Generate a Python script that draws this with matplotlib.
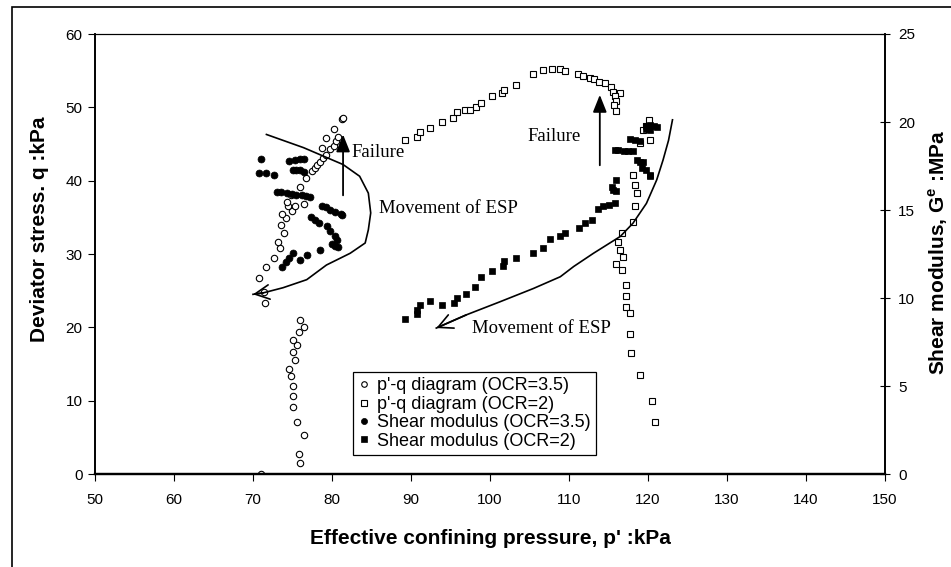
import matplotlib
matplotlib.use('Agg')
import matplotlib.pyplot as plt
from matplotlib.lines import Line2D
from matplotlib.patches import Rectangle

# p'-q path, OCR = 3.5  (p' and q in kPa)
pq35_p = [71.0, 75.9, 75.8, 76.4, 75.6, 75.0, 75.0, 75.0, 74.8, 74.5, 75.3, 75.0, 75.6, 75.1,
          75.8, 76.4, 75.9, 71.5, 71.4, 70.7, 71.6, 72.6, 73.4, 73.2, 73.9, 73.5, 74.2, 73.7,
          74.9, 74.4, 75.3, 76.4, 74.3, 74.8, 75.9, 76.7, 77.5, 77.8, 78.1, 78.5, 78.9, 79.3,
          78.7, 79.7, 80.2, 80.5, 79.3, 80.8, 80.2, 81.3, 81.4]
pq35_q = [0.0, 1.45, 2.7, 5.3, 7.1, 9.2, 10.6, 12.0, 13.3, 14.3, 15.6, 16.7, 17.6, 18.3,
          19.4, 20.1, 21.0, 23.3, 24.8, 26.7, 28.2, 29.5, 30.8, 31.7, 32.8, 33.9, 34.9, 35.5,
          35.9, 36.6, 36.6, 36.8, 37.1, 38.1, 39.2, 40.3, 41.3, 41.7, 42.1, 42.6, 43.1, 43.5,
          44.5, 44.3, 44.7, 45.4, 45.8, 45.9, 47.1, 48.4, 48.5]

# p'-q path, OCR = 2
pq2_p = [89.2, 90.7, 91.1, 92.4, 93.9, 95.3, 95.8, 96.8, 97.5, 98.2, 98.8, 100.2, 101.5,
         101.8, 103.3, 105.4, 106.7, 107.8, 108.8, 109.5, 111.2, 111.8, 112.6, 113.2, 113.8,
         114.6, 115.3, 115.6, 116.5, 115.8, 116.0, 115.7, 115.9, 120.1, 119.8, 119.4, 120.2,
         119.0, 118.1, 118.4, 118.6, 118.3, 118.1, 116.7, 116.2, 116.5, 116.8, 116.0, 116.7,
         117.2, 117.2, 117.2, 117.7, 117.7, 117.9, 119.0, 120.5, 120.9]
pq2_q = [45.6, 46.0, 46.7, 47.2, 48.0, 48.6, 49.4, 49.6, 49.7, 50.1, 50.6, 51.5, 51.9,
         52.4, 53.0, 54.5, 55.1, 55.2, 55.2, 54.9, 54.6, 54.3, 54.0, 53.8, 53.5,
         53.3, 52.8, 52.1, 52.0, 51.5, 50.9, 50.3, 49.5, 48.3, 47.5, 46.9, 45.5,
         45.1, 40.8, 39.4, 38.3, 36.5, 34.4, 32.8, 31.7, 30.5, 29.6, 28.6, 27.8,
         25.8, 24.3, 22.8, 22.0, 19.1, 16.5, 13.5, 9.9, 7.1]

# shear modulus, OCR = 3.5  (p' kPa, G MPa)
gm35_p = [71.0, 70.7, 71.6, 72.6, 74.6, 75.3, 75.9, 76.5, 75.0, 75.5, 76.0, 76.5, 73.0, 73.6,
          74.3, 74.9, 75.5, 76.2, 76.7, 77.2, 78.7, 79.2, 79.8, 80.4, 81.2, 81.3, 77.4, 77.8,
          78.4, 79.4, 79.7, 80.4, 80.6, 80.0, 80.4, 80.7, 78.5, 76.8, 75.9, 75.0, 74.5, 74.2,
          73.7]
gm35_g = [17.88, 17.08, 17.08, 17.00, 17.79, 17.83, 17.88, 17.88, 17.29, 17.25, 17.25, 17.17,
          16.04, 16.00, 15.96, 15.92, 15.88, 15.83, 15.79, 15.75, 15.21, 15.17, 15.00, 14.88,
          14.79, 14.71, 14.58, 14.46, 14.25, 14.08, 13.79, 13.50, 13.29, 13.08, 12.96, 12.92,
          12.75, 12.42, 12.17, 12.54, 12.29, 12.04, 11.75]

# shear modulus, OCR = 2
gm2_p = [89.2, 90.7, 90.8, 91.2, 92.4, 93.9, 95.4, 95.8, 97.0, 98.1, 98.8, 100.2, 101.6,
         101.8, 103.3, 105.4, 106.7, 107.6, 108.8, 109.5, 111.3, 112.0, 112.9, 113.7, 114.3,
         115.0, 115.8, 115.6, 116.0, 115.5, 115.9, 115.8, 116.2, 116.9, 117.5, 118.1, 117.7,
         118.3, 119.0, 118.6, 119.0, 119.4, 119.2, 119.8, 120.3, 120.2, 119.8, 120.3, 120.8,
         121.2, 119.7, 120.2]
gm2_g = [8.79, 9.08, 9.33, 9.58, 9.83, 9.58, 9.71, 10.00, 10.21, 10.63, 11.21, 11.54, 11.79,
         12.08, 12.29, 12.58, 12.83, 13.33, 13.50, 13.67, 13.96, 14.25, 14.42, 15.08, 15.21,
         15.29, 15.42, 16.13, 16.08, 16.33, 16.71, 18.42, 18.42, 18.38, 18.38, 18.33, 19.04,
         19.00, 18.92, 17.83, 17.75, 17.71, 17.38, 17.25, 17.00, 16.92, 19.79, 19.83, 19.75,
         19.71, 19.58, 19.54]

# sketched movement of the effective stress point (p', q)
esp35_p = [71.7, 76.4, 81.4, 83.5, 84.6, 84.9, 84.6, 84.2, 82.3, 79.3, 76.8, 73.8, 71.3, 70.0]
esp35_q = [46.3, 44.5, 42.2, 40.6, 38.3, 35.6, 33.3, 31.5, 30.1, 28.5, 26.5, 25.4, 24.7, 24.5]
esp2_p = [123.1, 122.6, 121.9, 121.1, 119.8, 118.1, 116.5, 113.1, 110.6, 108.9, 105.5,
          101.3, 97.0, 93.2]
esp2_q = [48.3, 45.5, 42.8, 40.1, 36.9, 34.2, 32.4, 30.1, 28.3, 26.9, 25.3, 23.5, 21.7, 19.9]

x_ticks = list(range(50, 151, 10))
q_ticks = list(range(0, 61, 10))
g_ticks = list(range(0, 26, 5))

legend_labels = ["p'-q diagram (OCR=3.5)", "p'-q diagram (OCR=2)",
                 "Shear modulus (OCR=3.5)", "Shear modulus (OCR=2)"]

SANS = 'Liberation Sans'
SERIF = 'Liberation Serif'
plt.rcParams['font.family'] = SANS
plt.rcParams['mathtext.fontset'] = 'custom'
plt.rcParams['mathtext.rm'] = SANS
plt.rcParams['mathtext.bf'] = SANS + ':bold'

W, H = 951, 567
fig = plt.figure(figsize=(W / 100, H / 100), dpi=100)
fig.patch.set_facecolor('white')

# axes box in pixels: left 95, right 885, top 34, bottom 474
ax = fig.add_axes([95 / W, 1 - 474 / H, 790 / W, 440 / H])
ax2 = ax.twinx()

ax.set_xlim(50, 150)
ax.set_ylim(0, 60)
ax2.set_ylim(0, 25)
ax.set_xticks(x_ticks)
ax.set_yticks(q_ticks)
ax2.set_yticks(g_ticks)

ax.tick_params(axis='x', direction='out', length=5, width=0.8, labelsize=11, pad=9)
ax.tick_params(axis='y', direction='out', length=5, width=0.8, labelsize=11, pad=4)
ax2.tick_params(axis='y', direction='inout', length=7, width=0.8, labelsize=11, pad=6)

for a in (ax, ax2):
    a.spines['bottom'].set_linewidth(1.6)
    a.spines['left'].set_linewidth(1.2)
    a.spines['right'].set_linewidth(1.2)
    a.spines['top'].set_linewidth(0.8)

open_style = dict(ls='none', mfc='white', mec='black', mew=0.8)
fill_style = dict(ls='none', mfc='black', mec='black', mew=0.5)

ax.plot(pq35_p, pq35_q, marker='o', ms=4.6, **open_style)
ax.plot(pq2_p, pq2_q, marker='s', ms=4.4, **open_style)
ax2.plot(gm35_p, gm35_g, marker='o', ms=5.0, **fill_style)
ax2.plot(gm2_p, gm2_g, marker='s', ms=4.8, **fill_style)

# ESP movement sketches with open arrow heads
for px, qy in ((esp35_p, esp35_q), (esp2_p, esp2_q)):
    ax.plot(px, qy, color='black', lw=1.2)
    ax.annotate('', xy=(px[-1], qy[-1]), xytext=(px[-2], qy[-2]),
                arrowprops=dict(arrowstyle='->,head_length=0.8,head_width=0.4',
                                mutation_scale=13, lw=1.2, color='black',
                                shrinkA=0, shrinkB=0))

# failure arrows
for x0, y0, y1 in ((81.4, 38.0, 46.3), (113.9, 42.1, 51.7)):
    ax.annotate('', xy=(x0, y1), xytext=(x0, y0),
                arrowprops=dict(arrowstyle='-|>,head_length=0.75,head_width=0.3',
                                mutation_scale=14, lw=1.3, color='black',
                                shrinkA=0, shrinkB=0))

ax.text(82.5, 43.8, 'Failure', family=SERIF, fontsize=13.5, ha='left', va='center')
ax.text(104.7, 46.0, 'Failure', family=SERIF, fontsize=13.5, ha='left', va='center')
ax.text(86.0, 36.2, 'Movement of ESP', family=SERIF, fontsize=13.5, ha='left', va='center')
ax.text(97.7, 19.9, 'Movement of ESP', family=SERIF, fontsize=13.5, ha='left', va='center')

handles = [
    Line2D([], [], marker='o', ms=4.0, **open_style),
    Line2D([], [], marker='s', ms=4.0, **open_style),
    Line2D([], [], marker='o', ms=4.4, **fill_style),
    Line2D([], [], marker='s', ms=4.4, **fill_style),
]
leg = ax2.legend(handles, legend_labels, loc='upper left',
                 bbox_to_anchor=((353 - 95) / 790, (474 - 372) / 440),
                 fontsize=13, frameon=True, fancybox=False, framealpha=1,
                 edgecolor='black', borderpad=0.3, borderaxespad=0,
                 labelspacing=0.08, handlelength=0.6, handletextpad=0.45)
leg.get_frame().set_linewidth(0.9)

fig.text(490 / W, 1 - 538 / H, "Effective confining pressure, p' :kPa",
         ha='center', va='center', fontsize=15, fontweight='bold')
fig.text(40 / W, 1 - 229 / H, 'Deviator stress. q :kPa', rotation=90,
         ha='center', va='center', fontsize=15, fontweight='bold')
fig.text(938 / W, 1 - 252 / H, r'Shear modulus, G$^{\mathbf{e}}$ :MPa', rotation=90,
         ha='center', va='center', fontsize=15, fontweight='bold')

# chart frame
fig.patches.append(Rectangle((12 / W, -0.05), 1.05, (1 - 7 / H) + 0.05,
                             transform=fig.transFigure, fill=False,
                             edgecolor='black', lw=1.2))

fig.savefig('out.png', dpi=100, facecolor='white')
